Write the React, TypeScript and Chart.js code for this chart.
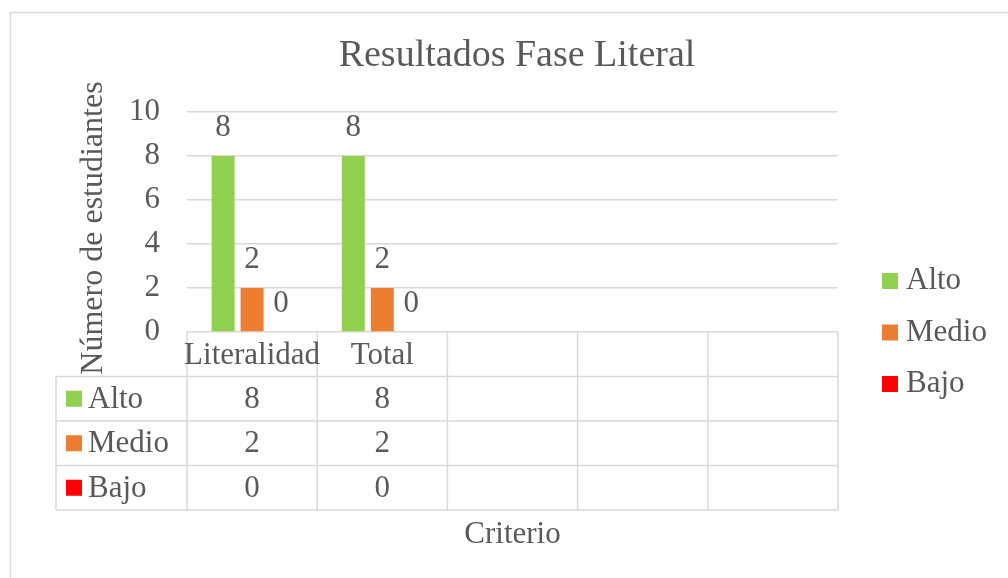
import React, { useEffect, useRef } from "react";
import { Chart, registerables } from "chart.js";

Chart.register(...registerables);

const chartTitle = "Resultados Fase Literal";
const yAxisTitle = "Número de estudiantes";
const xAxisTitle = "Criterio";
const categories = ["Literalidad", "Total", "", "", ""];
const seriesNames = ["Alto", "Medio", "Bajo"];
const altoValues = [8, 8, null, null, null];
const medioValues = [2, 2, null, null, null];
const bajoValues = [0, 0, null, null, null];
const seriesColors = ["#92d050", "#ed7d31", "#ff0000"];
const yTicks = [0, 2, 4, 6, 8, 10];

const FONT = "'Liberation Serif', 'Times New Roman', serif";
const TEXT = "#595959";
const LINE = "#d9d9d9";

const customDraw = {
  id: "customDraw",
  afterDraw(chart: any) {
    const ctx = chart.ctx;
    const area = chart.chartArea;
    const xs = chart.scales.x;
    ctx.save();

    // outer border
    ctx.strokeStyle = LINE;
    ctx.lineWidth = 1.5;
    ctx.strokeRect(10.5, 12.5, 1100, 700);

    // title
    ctx.fillStyle = TEXT;
    ctx.font = `38px ${FONT}`;
    ctx.textAlign = "center";
    ctx.textBaseline = "middle";
    ctx.fillText(chartTitle, 517, 56);

    // y axis title
    ctx.save();
    ctx.translate(94, 228);
    ctx.rotate(-Math.PI / 2);
    ctx.font = `32px ${FONT}`;
    ctx.fillText(yAxisTitle, 0, 0);
    ctx.restore();

    // data labels
    ctx.font = `31px ${FONT}`;
    chart.data.datasets.forEach((ds: any, di: number) => {
      const meta = chart.getDatasetMeta(di);
      meta.data.forEach((bar: any, i: number) => {
        const v = ds.data[i];
        if (v === null || v === undefined) return;
        ctx.fillText(String(v), bar.x, bar.y - 28);
      });
    });

    // data table
    const n = categories.length;
    const catW = (area.right - area.left) / n;
    const rowH = 44.5;
    const top = area.bottom;
    const tableLeft = 56;
    const rows = seriesNames.length + 1;
    ctx.strokeStyle = LINE;
    ctx.lineWidth = 1.5;
    ctx.beginPath();
    for (let r = 1; r <= rows; r++) {
      const y = top + r * rowH;
      ctx.moveTo(tableLeft, y);
      ctx.lineTo(area.right, y);
    }
    ctx.moveTo(tableLeft, top + rowH);
    ctx.lineTo(tableLeft, top + rows * rowH);
    for (let c = 0; c <= n; c++) {
      const x = c < n ? xs.getPixelForValue(c) - catW / 2 : xs.getPixelForValue(n - 1) + catW / 2;
      ctx.moveTo(x, top);
      ctx.lineTo(x, top + rows * rowH);
    }
    ctx.stroke();

    ctx.fillStyle = TEXT;
    ctx.font = `31px ${FONT}`;
    ctx.textAlign = "center";
    categories.forEach((c, i) => {
      ctx.fillText(c, xs.getPixelForValue(i), top + rowH / 2 + 2);
    });
    chart.data.datasets.forEach((ds: any, di: number) => {
      const cy = top + (di + 1.5) * rowH;
      ctx.fillStyle = seriesColors[di];
      ctx.fillRect(66, cy - 8, 16, 16);
      ctx.fillStyle = TEXT;
      ctx.textAlign = "left";
      ctx.fillText(ds.label, 88, cy + 1);
      ctx.textAlign = "center";
      ds.data.forEach((v: any, i: number) => {
        if (v === null || v === undefined) return;
        ctx.fillText(String(v), xs.getPixelForValue(i), cy + 1);
      });
    });

    // x axis title
    ctx.textAlign = "center";
    ctx.fillText(xAxisTitle, (area.left + area.right) / 2, 535);

    // legend
    seriesNames.forEach((name, i) => {
      const cy = 281 + i * 51.5;
      ctx.fillStyle = seriesColors[i];
      ctx.fillRect(882, cy - 8, 16, 16);
      ctx.fillStyle = TEXT;
      ctx.textAlign = "left";
      ctx.fillText(name, 906, cy);
    });

    ctx.restore();
  },
};

export default function App() {
  const ref = useRef<HTMLCanvasElement | null>(null);
  useEffect(() => {
    if (!ref.current) return;
    const chart = new Chart(ref.current, {
      type: "bar",
      data: {
        labels: categories,
        datasets: [
          { label: seriesNames[0], data: altoValues, backgroundColor: seriesColors[0] },
          { label: seriesNames[1], data: medioValues, backgroundColor: seriesColors[1] },
          { label: seriesNames[2], data: bajoValues, backgroundColor: seriesColors[2] },
        ],
      },
      options: {
        responsive: false,
        animation: false,
        layout: { padding: { top: 112, right: 170, bottom: 246, left: 0 } },
        categoryPercentage: 0.668,
        barPercentage: 0.793,
        plugins: {
          legend: { display: false },
          title: { display: false },
          tooltip: { enabled: false },
        },
        scales: {
          x: { display: false },
          y: {
            min: 0,
            max: 10,
            afterFit: (s: any) => {
              s.width = 187;
            },
            afterBuildTicks: (s: any) => {
              s.ticks = yTicks.map((v) => ({ value: v }));
            },
            ticks: {
              font: { family: FONT, size: 31 },
              color: TEXT,
              padding: 27,
            },
            grid: { color: LINE, lineWidth: 1.5, drawTicks: false },
            border: { display: false },
          },
        },
      },
      plugins: [customDraw],
    } as any);
    return () => chart.destroy();
  }, []);
  return (
    <div style={{ position: "fixed", left: 0, top: 0, width: 1008, height: 578, background: "#fff" }}>
      <canvas ref={ref} width={1008} height={578} />
    </div>
  );
}
